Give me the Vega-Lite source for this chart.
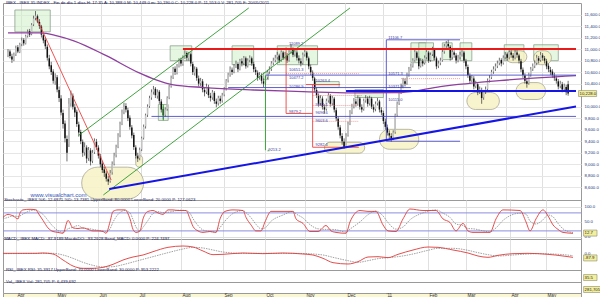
{
"$schema": "https://vega.github.io/schema/vega-lite/v6.json",
"padding": 0,
"autosize": {"type": "pad"},
"background": "white",
"spacing": 0,
"bounds": "flush",
"config": {
 "view": {"stroke": "#9a9a9a", "strokeWidth": 1},
 "axis": {"labelFont": "Liberation Sans", "labelOverlap": false, "labelBound": false},
 "text": {"font": "Liberation Sans"},
 "title": {"anchor": "start", "fontSize": 4.3, "fontWeight": "normal", "font": "Liberation Sans", "color": "#1a1a5a", "offset": -2, "baseline": "top", "dx": 3}
},
"datasets": {
 "ohlc": [
{"i":0,"o":10900,"h":11000,"l":10860,"c":10950},{"i":1,"o":10960,"h":10990,"l":10840,"c":10880},{"i":2,"o":10870,"h":10920,"l":10760,"c":10820},{"i":3,"o":10810,"h":10940,"l":10790,"c":10900},{"i":4,"o":10910,"h":11060,"l":10880,"c":11020},{"i":5,"o":11030,"h":11070,"l":10930,"c":10960},{"i":6,"o":10950,"h":11110,"l":10930,"c":11080},{"i":7,"o":11090,"h":11200,"l":11050,"c":11150},{"i":8,"o":11160,"h":11190,"l":11060,"c":11100},{"i":9,"o":11100,"h":11250,"l":11080,"c":11220},
{"i":10,"o":11230,"h":11340,"l":11200,"c":11300},{"i":11,"o":11310,"h":11350,"l":11210,"c":11250},{"i":12,"o":11260,"h":11450,"l":11240,"c":11420},{"i":13,"o":11430,"h":11580,"l":11400,"c":11530},{"i":14,"o":11540,"h":11660,"l":11500,"c":11580},{"i":15,"o":11570,"h":11600,"l":11450,"c":11480},{"i":16,"o":11470,"h":11520,"l":11350,"c":11400},{"i":17,"o":11390,"h":11420,"l":11200,"c":11250},{"i":18,"o":11240,"h":11280,"l":11100,"c":11150},{"i":19,"o":11160,"h":11200,"l":11000,"c":11050},
{"i":20,"o":11040,"h":11080,"l":10800,"c":10850},{"i":21,"o":10840,"h":10900,"l":10650,"c":10700},{"i":22,"o":10720,"h":10780,"l":10550,"c":10600},{"i":23,"o":10610,"h":10650,"l":10400,"c":10450},{"i":24,"o":10440,"h":10580,"l":10380,"c":10500},{"i":25,"o":10510,"h":10550,"l":10250,"c":10300},{"i":26,"o":10290,"h":10350,"l":10080,"c":10150},{"i":27,"o":10140,"h":10200,"l":9850,"c":9900},{"i":28,"o":9890,"h":9950,"l":9620,"c":9700},{"i":29,"o":9710,"h":9760,"l":9380,"c":9450},
{"i":30,"o":9440,"h":9500,"l":9050,"c":9200},{"i":31,"o":9350,"h":10150,"l":9300,"c":10050},{"i":32,"o":10060,"h":10280,"l":10000,"c":10200},{"i":33,"o":10190,"h":10230,"l":9950,"c":10000},{"i":34,"o":9990,"h":10050,"l":9820,"c":9900},{"i":35,"o":9910,"h":9950,"l":9650,"c":9700},{"i":36,"o":9690,"h":9740,"l":9480,"c":9550},{"i":37,"o":9560,"h":9600,"l":9350,"c":9400},{"i":38,"o":9390,"h":9430,"l":9130,"c":9200},{"i":39,"o":9210,"h":9380,"l":9150,"c":9300},
{"i":40,"o":9290,"h":9330,"l":9020,"c":9100},{"i":41,"o":9110,"h":9300,"l":9060,"c":9250},{"i":42,"o":9240,"h":9280,"l":8980,"c":9050},{"i":43,"o":9060,"h":9250,"l":9020,"c":9200},{"i":44,"o":9210,"h":9450,"l":9180,"c":9400},{"i":45,"o":9390,"h":9440,"l":9250,"c":9300},{"i":46,"o":9290,"h":9330,"l":9100,"c":9150},{"i":47,"o":9140,"h":9180,"l":8950,"c":9000},{"i":48,"o":9010,"h":9060,"l":8850,"c":8900},{"i":49,"o":8910,"h":8960,"l":8780,"c":8850},
{"i":50,"o":8840,"h":8880,"l":8700,"c":8750},{"i":51,"o":8740,"h":8800,"l":8640,"c":8700},{"i":52,"o":8710,"h":8900,"l":8680,"c":8850},{"i":53,"o":8860,"h":9050,"l":8820,"c":9000},{"i":54,"o":9010,"h":9200,"l":8980,"c":9150},{"i":55,"o":9160,"h":9340,"l":9120,"c":9300},{"i":56,"o":9310,"h":9540,"l":9280,"c":9500},{"i":57,"o":9510,"h":9740,"l":9470,"c":9700},{"i":58,"o":9710,"h":9950,"l":9680,"c":9900},{"i":59,"o":9910,"h":10070,"l":9870,"c":10000},
{"i":60,"o":10010,"h":10060,"l":9900,"c":9950},{"i":61,"o":9940,"h":9980,"l":9750,"c":9800},{"i":62,"o":9810,"h":9850,"l":9600,"c":9650},{"i":63,"o":9640,"h":9680,"l":9450,"c":9500},{"i":64,"o":9510,"h":9550,"l":9250,"c":9300},{"i":65,"o":9290,"h":9330,"l":9100,"c":9150},{"i":66,"o":9140,"h":9200,"l":9040,"c":9100},{"i":67,"o":9110,"h":9290,"l":9070,"c":9250},{"i":68,"o":9260,"h":9480,"l":9230,"c":9450},{"i":69,"o":9460,"h":9690,"l":9430,"c":9650},
{"i":70,"o":9660,"h":9880,"l":9620,"c":9850},{"i":71,"o":9860,"h":10040,"l":9820,"c":10000},{"i":72,"o":10010,"h":10190,"l":9980,"c":10150},{"i":73,"o":10160,"h":10300,"l":10120,"c":10250},{"i":74,"o":10260,"h":10360,"l":10210,"c":10300},{"i":75,"o":10310,"h":10340,"l":10150,"c":10200},{"i":76,"o":10190,"h":10300,"l":10140,"c":10250},{"i":77,"o":10260,"h":10290,"l":10050,"c":10100},{"i":78,"o":10090,"h":10130,"l":9900,"c":9950},{"i":79,"o":9960,"h":10000,"l":9780,"c":9850},
{"i":80,"o":9860,"h":9990,"l":9820,"c":9950},{"i":81,"o":9960,"h":10180,"l":9930,"c":10150},{"i":82,"o":10160,"h":10380,"l":10130,"c":10350},{"i":83,"o":10360,"h":10540,"l":10330,"c":10500},{"i":84,"o":10510,"h":10690,"l":10480,"c":10650},{"i":85,"o":10660,"h":10700,"l":10550,"c":10600},{"i":86,"o":10590,"h":10740,"l":10560,"c":10700},{"i":87,"o":10710,"h":10840,"l":10680,"c":10800},{"i":88,"o":10810,"h":10850,"l":10700,"c":10750},{"i":89,"o":10740,"h":10890,"l":10710,"c":10850},
{"i":90,"o":10860,"h":10980,"l":10830,"c":10920},{"i":91,"o":10930,"h":10960,"l":10800,"c":10850},{"i":92,"o":10840,"h":10950,"l":10800,"c":10900},{"i":93,"o":10910,"h":10940,"l":10700,"c":10750},{"i":94,"o":10740,"h":10780,"l":10550,"c":10600},{"i":95,"o":10590,"h":10700,"l":10540,"c":10650},{"i":96,"o":10660,"h":10690,"l":10450,"c":10500},{"i":97,"o":10490,"h":10540,"l":10350,"c":10400},{"i":98,"o":10410,"h":10500,"l":10360,"c":10450},{"i":99,"o":10440,"h":10480,"l":10250,"c":10300},
{"i":100,"o":10290,"h":10340,"l":10180,"c":10250},{"i":101,"o":10260,"h":10400,"l":10220,"c":10350},{"i":102,"o":10340,"h":10380,"l":10150,"c":10200},{"i":103,"o":10190,"h":10240,"l":10090,"c":10150},{"i":104,"o":10160,"h":10290,"l":10120,"c":10250},{"i":105,"o":10240,"h":10270,"l":10050,"c":10100},{"i":106,"o":10090,"h":10140,"l":9990,"c":10050},{"i":107,"o":10060,"h":10190,"l":10020,"c":10150},{"i":108,"o":10140,"h":10190,"l":10050,"c":10100},{"i":109,"o":10110,"h":10240,"l":10070,"c":10200},
{"i":110,"o":10210,"h":10340,"l":10180,"c":10300},{"i":111,"o":10310,"h":10480,"l":10280,"c":10450},{"i":112,"o":10460,"h":10590,"l":10420,"c":10550},{"i":113,"o":10560,"h":10700,"l":10520,"c":10650},{"i":114,"o":10640,"h":10680,"l":10550,"c":10600},{"i":115,"o":10610,"h":10740,"l":10580,"c":10700},{"i":116,"o":10710,"h":10800,"l":10670,"c":10750},{"i":117,"o":10740,"h":10770,"l":10600,"c":10650},{"i":118,"o":10660,"h":10830,"l":10630,"c":10800},{"i":119,"o":10790,"h":10840,"l":10700,"c":10750},
{"i":120,"o":10760,"h":10880,"l":10720,"c":10850},{"i":121,"o":10840,"h":10870,"l":10660,"c":10700},{"i":122,"o":10710,"h":10840,"l":10680,"c":10800},{"i":123,"o":10810,"h":10890,"l":10770,"c":10850},{"i":124,"o":10840,"h":10870,"l":10710,"c":10750},{"i":125,"o":10740,"h":10780,"l":10600,"c":10650},{"i":126,"o":10640,"h":10690,"l":10550,"c":10600},{"i":127,"o":10590,"h":10630,"l":10450,"c":10500},{"i":128,"o":10510,"h":10600,"l":10470,"c":10550},{"i":129,"o":10540,"h":10580,"l":10400,"c":10450},
{"i":130,"o":10440,"h":10490,"l":10340,"c":10400},{"i":131,"o":10410,"h":10540,"l":10380,"c":10500},{"i":132,"o":10510,"h":10640,"l":10480,"c":10600},{"i":133,"o":10610,"h":10700,"l":10570,"c":10650},{"i":134,"o":10660,"h":10790,"l":10620,"c":10750},{"i":135,"o":10760,"h":10850,"l":10720,"c":10800},{"i":136,"o":10810,"h":10900,"l":10770,"c":10850},{"i":137,"o":10860,"h":10950,"l":10820,"c":10900},{"i":138,"o":10890,"h":10920,"l":10760,"c":10800},{"i":139,"o":10810,"h":10980,"l":10780,"c":10950},
{"i":140,"o":10940,"h":10970,"l":10810,"c":10850},{"i":141,"o":10860,"h":10950,"l":10820,"c":10900},{"i":142,"o":10890,"h":10930,"l":10760,"c":10800},{"i":143,"o":10810,"h":10990,"l":10780,"c":10950},{"i":144,"o":10960,"h":11089,"l":10920,"c":11000},{"i":145,"o":10990,"h":11030,"l":10860,"c":10900},{"i":146,"o":10910,"h":11000,"l":10870,"c":10950},{"i":147,"o":10940,"h":10980,"l":10800,"c":10850},{"i":148,"o":10840,"h":10890,"l":10750,"c":10800},{"i":149,"o":10790,"h":10840,"l":10700,"c":10750},
{"i":150,"o":10760,"h":10940,"l":10730,"c":10900},{"i":151,"o":10910,"h":11000,"l":10870,"c":10950},{"i":152,"o":10940,"h":10970,"l":10800,"c":10850},{"i":153,"o":10840,"h":10870,"l":10650,"c":10700},{"i":154,"o":10690,"h":10730,"l":10550,"c":10600},{"i":155,"o":10590,"h":10630,"l":10450,"c":10500},{"i":156,"o":10490,"h":10520,"l":10250,"c":10300},{"i":157,"o":10290,"h":10340,"l":10150,"c":10200},{"i":158,"o":10190,"h":10230,"l":10000,"c":10050},{"i":159,"o":10060,"h":10200,"l":10020,"c":10150},
{"i":160,"o":10140,"h":10180,"l":9950,"c":10000},{"i":161,"o":9990,"h":10040,"l":9880,"c":9950},{"i":162,"o":9960,"h":10140,"l":9930,"c":10100},{"i":163,"o":10110,"h":10250,"l":10070,"c":10200},{"i":164,"o":10190,"h":10220,"l":10000,"c":10050},{"i":165,"o":10060,"h":10190,"l":10020,"c":10150},{"i":166,"o":10140,"h":10170,"l":9900,"c":9950},{"i":167,"o":9940,"h":9980,"l":9750,"c":9800},{"i":168,"o":9790,"h":9830,"l":9600,"c":9650},{"i":169,"o":9640,"h":9680,"l":9450,"c":9500},
{"i":170,"o":9490,"h":9540,"l":9340,"c":9400},{"i":171,"o":9390,"h":9450,"l":9267,"c":9300},{"i":172,"o":9310,"h":9540,"l":9280,"c":9500},{"i":173,"o":9510,"h":9740,"l":9480,"c":9700},{"i":174,"o":9710,"h":9940,"l":9680,"c":9900},{"i":175,"o":9910,"h":10050,"l":9870,"c":10000},{"i":176,"o":10010,"h":10150,"l":9970,"c":10100},{"i":177,"o":10090,"h":10140,"l":10000,"c":10050},{"i":178,"o":10060,"h":10200,"l":10020,"c":10150},{"i":179,"o":10140,"h":10170,"l":9950,"c":10000},
{"i":180,"o":9990,"h":10040,"l":9900,"c":9950},{"i":181,"o":9960,"h":10140,"l":9930,"c":10100},{"i":182,"o":10110,"h":10200,"l":10070,"c":10150},{"i":183,"o":10140,"h":10180,"l":10000,"c":10050},{"i":184,"o":10060,"h":10190,"l":10020,"c":10150},{"i":185,"o":10140,"h":10170,"l":9960,"c":10000},{"i":186,"o":9990,"h":10040,"l":9900,"c":9950},{"i":187,"o":9960,"h":10090,"l":9920,"c":10050},{"i":188,"o":10060,"h":10150,"l":10020,"c":10100},{"i":189,"o":10090,"h":10120,"l":9900,"c":9950},
{"i":190,"o":9940,"h":9990,"l":9850,"c":9900},{"i":191,"o":9890,"h":9930,"l":9700,"c":9750},{"i":192,"o":9740,"h":9790,"l":9600,"c":9650},{"i":193,"o":9640,"h":9690,"l":9500,"c":9550},{"i":194,"o":9540,"h":9590,"l":9440,"c":9500},{"i":195,"o":9490,"h":9540,"l":9390,"c":9450},{"i":196,"o":9460,"h":9590,"l":9420,"c":9550},{"i":197,"o":9560,"h":9880,"l":9530,"c":9850},{"i":198,"o":9860,"h":10090,"l":9830,"c":10050},{"i":199,"o":10060,"h":10290,"l":10030,"c":10250},
{"i":200,"o":10260,"h":10400,"l":10220,"c":10350},{"i":201,"o":10360,"h":10500,"l":10320,"c":10450},{"i":202,"o":10440,"h":10490,"l":10350,"c":10400},{"i":203,"o":10410,"h":10590,"l":10380,"c":10550},{"i":204,"o":10560,"h":10690,"l":10520,"c":10650},{"i":205,"o":10660,"h":10750,"l":10620,"c":10700},{"i":206,"o":10710,"h":10840,"l":10680,"c":10800},{"i":207,"o":10810,"h":10990,"l":10780,"c":10950},{"i":208,"o":10940,"h":10970,"l":10800,"c":10850},{"i":209,"o":10840,"h":10870,"l":10650,"c":10700},
{"i":210,"o":10710,"h":10840,"l":10680,"c":10800},{"i":211,"o":10790,"h":10830,"l":10700,"c":10750},{"i":212,"o":10760,"h":10890,"l":10730,"c":10850},{"i":213,"o":10860,"h":10990,"l":10820,"c":10950},{"i":214,"o":10940,"h":10970,"l":10760,"c":10800},{"i":215,"o":10810,"h":10940,"l":10780,"c":10900},{"i":216,"o":10910,"h":11040,"l":10880,"c":11000},{"i":217,"o":10990,"h":11020,"l":10800,"c":10850},{"i":218,"o":10840,"h":10870,"l":10650,"c":10700},{"i":219,"o":10710,"h":10800,"l":10670,"c":10750},
{"i":220,"o":10760,"h":10850,"l":10720,"c":10800},{"i":221,"o":10810,"h":10990,"l":10780,"c":10950},{"i":222,"o":10960,"h":11090,"l":10920,"c":11050},{"i":223,"o":11060,"h":11140,"l":11020,"c":11100},{"i":224,"o":11090,"h":11160,"l":11000,"c":11050},{"i":225,"o":11040,"h":11070,"l":10800,"c":10850},{"i":226,"o":10860,"h":10990,"l":10820,"c":10950},{"i":227,"o":10940,"h":10980,"l":10850,"c":10900},{"i":228,"o":10890,"h":10930,"l":10750,"c":10800},{"i":229,"o":10810,"h":10900,"l":10770,"c":10850},
{"i":230,"o":10860,"h":10950,"l":10820,"c":10900},{"i":231,"o":10910,"h":11000,"l":10870,"c":10950},{"i":232,"o":10940,"h":10970,"l":10760,"c":10800},{"i":233,"o":10790,"h":10830,"l":10650,"c":10700},{"i":234,"o":10690,"h":10730,"l":10500,"c":10550},{"i":235,"o":10540,"h":10580,"l":10400,"c":10450},{"i":236,"o":10460,"h":10550,"l":10420,"c":10500},{"i":237,"o":10490,"h":10530,"l":10300,"c":10350},{"i":238,"o":10360,"h":10450,"l":10320,"c":10400},{"i":239,"o":10390,"h":10430,"l":10200,"c":10250},
{"i":240,"o":10260,"h":10350,"l":10220,"c":10300},{"i":241,"o":10290,"h":10330,"l":10050,"c":10150},{"i":242,"o":10160,"h":10290,"l":10120,"c":10250},{"i":243,"o":10260,"h":10350,"l":10220,"c":10300},{"i":244,"o":10310,"h":10490,"l":10280,"c":10450},{"i":245,"o":10460,"h":10550,"l":10420,"c":10500},{"i":246,"o":10510,"h":10640,"l":10480,"c":10600},{"i":247,"o":10610,"h":10700,"l":10570,"c":10650},{"i":248,"o":10660,"h":10750,"l":10620,"c":10700},{"i":249,"o":10710,"h":10800,"l":10670,"c":10750},
{"i":250,"o":10760,"h":10850,"l":10720,"c":10800},{"i":251,"o":10810,"h":10840,"l":10700,"c":10750},{"i":252,"o":10760,"h":10890,"l":10730,"c":10850},{"i":253,"o":10860,"h":10950,"l":10820,"c":10900},{"i":254,"o":10910,"h":10940,"l":10800,"c":10850},{"i":255,"o":10860,"h":10990,"l":10820,"c":10950},{"i":256,"o":10940,"h":10980,"l":10850,"c":10900},{"i":257,"o":10890,"h":10930,"l":10800,"c":10850},{"i":258,"o":10860,"h":10990,"l":10820,"c":10950},{"i":259,"o":10940,"h":10980,"l":10850,"c":10900},
{"i":260,"o":10890,"h":10920,"l":10750,"c":10800},{"i":261,"o":10790,"h":10830,"l":10600,"c":10650},{"i":262,"o":10640,"h":10680,"l":10500,"c":10550},{"i":263,"o":10540,"h":10580,"l":10400,"c":10450},{"i":264,"o":10440,"h":10490,"l":10330,"c":10400},{"i":265,"o":10410,"h":10590,"l":10380,"c":10550},{"i":266,"o":10560,"h":10690,"l":10520,"c":10650},{"i":267,"o":10660,"h":10750,"l":10620,"c":10700},{"i":268,"o":10710,"h":10800,"l":10670,"c":10750},{"i":269,"o":10760,"h":10900,"l":10720,"c":10850},
{"i":270,"o":10840,"h":10880,"l":10750,"c":10800},{"i":271,"o":10810,"h":10950,"l":10780,"c":10900},{"i":272,"o":10890,"h":10930,"l":10800,"c":10850},{"i":273,"o":10840,"h":10880,"l":10750,"c":10800},{"i":274,"o":10790,"h":10830,"l":10650,"c":10700},{"i":275,"o":10710,"h":10750,"l":10600,"c":10650},{"i":276,"o":10640,"h":10690,"l":10550,"c":10600},{"i":277,"o":10610,"h":10650,"l":10500,"c":10550},{"i":278,"o":10540,"h":10590,"l":10450,"c":10500},{"i":279,"o":10490,"h":10540,"l":10400,"c":10450},
{"i":280,"o":10440,"h":10480,"l":10300,"c":10350},{"i":281,"o":10360,"h":10450,"l":10320,"c":10400},{"i":282,"o":10390,"h":10430,"l":10250,"c":10300},{"i":283,"o":10310,"h":10400,"l":10270,"c":10350},{"i":284,"o":10340,"h":10380,"l":10200,"c":10250},{"i":285,"o":10388,"h":10449,"l":10190,"c":10228}
 ],
 "ma": [
{"i":0,"v":11282},{"i":16.5,"v":11282},{"i":25,"v":11230},{"i":33.5,"v":11144},{"i":50,"v":10885},{"i":66.5,"v":10591},{"i":75,"v":10470},{"i":83.5,"v":10384},{"i":100,"v":10332},{"i":125,"v":10290},{"i":150,"v":10263},{"i":175,"v":10240},{"i":200,"v":10246},{"i":220,"v":10349},{"i":250,"v":10453},{"i":289,"v":10539}
 ],
 "months": [
{"m":6.5,"t":"Apr"},{"m":26.5,"t":"May"},{"m":47.5,"t":"Jun"},{"m":67.5,"t":"Jul"},{"m":89,"t":"Aug"},{"m":110,"t":"Sep"},{"m":131,"t":"Oct"},{"m":151,"t":"Nov"},{"m":171.5,"t":"Dec"},{"m":191,"t":"'11"},{"m":212.5,"t":"Feb"},{"m":231.5,"t":"Mar"},{"m":253.5,"t":"Apr"},{"m":271.5,"t":"May"}
 ],
 "boxes": [
{"i1":3.5,"i2":21.5,"p1":11679,"p2":11299},{"i1":82.5,"i2":93.5,"p1":11057,"p2":10798},{"i1":114,"i2":125,"p1":11057,"p2":10729},{"i1":130,"i2":132.5,"p1":10591,"p2":10470},{"i1":137,"i2":157.5,"p1":11057,"p2":10729},{"i1":156.5,"i2":168.5,"p1":10436,"p2":10332},{"i1":176.5,"i2":191,"p1":10297,"p2":10159},{"i1":205,"i2":212.5,"p1":11109,"p2":10764},{"i1":209,"i2":216.5,"p1":11109,"p2":10798},{"i1":221,"i2":226,"p1":11109,"p2":10816},{"i1":230,"i2":236,"p1":11109,"p2":10798},{"i1":252.5,"i2":262.5,"p1":11075,"p2":10798},{"i1":267.5,"i2":280,"p1":11075,"p2":10798},{"i1":76.5,"i2":81.5,"p1":10038,"p2":9762}
 ],
 "ovals": [
{"i1":37.5,"i2":69,"p1":8950,"p2":8398},{"i1":65,"i2":68.5,"p1":9158,"p2":8950},{"i1":161,"i2":181.5,"p1":9382,"p2":9192},{"i1":189,"i2":209,"p1":9607,"p2":9261},{"i1":233.5,"i2":250,"p1":10246,"p2":9952},{"i1":258.5,"i2":273.5,"p1":10418,"p2":10125},{"i1":253.5,"i2":264,"p1":10971,"p2":10764},{"i1":267.5,"i2":276.5,"p1":10971,"p2":10729}
 ],
 "redThick": [{"x1":89,"x2":289,"p1":11000,"p2":11000}],
 "redThin": [
{"x1":14.5,"x2":52.5,"p1":11541,"p2":8726},{"x1":141.5,"x2":141.5,"p1":11030,"p2":9883},{"x1":141.5,"x2":155,"p1":9883,"p2":9883},{"x1":155,"x2":155,"p1":10384,"p2":9296},{"x1":155,"x2":178.5,"p1":9296,"p2":9296},{"x1":151.5,"x2":169,"p1":10384,"p2":10384}
 ],
 "pinkDot": [
{"x1":141.5,"x2":178.5,"p1":10574,"p2":10574},{"x1":155,"x2":180,"p1":10194,"p2":10194},{"x1":155,"x2":178.5,"p1":10021,"p2":10021},{"x1":155,"x2":178.5,"p1":9745,"p2":9745},{"x1":200,"x2":230,"p1":10487,"p2":10487}
 ],
 "green": [
{"x1":36,"x2":122.5,"p1":9503,"p2":11714},{"x1":48.5,"x2":174,"p1":8467,"p2":11714},{"x1":131,"x2":131,"p1":10539,"p2":9244},{"x1":79,"x2":79,"p1":10038,"p2":9762}
 ],
 "blueThick": [
{"x1":51.5,"x2":289,"p1":8570,"p2":10004},{"x1":172,"x2":289,"p1":10272,"p2":10272}
 ],
 "blueThin": [
{"x1":131,"x2":289,"p1":10548,"p2":10548},{"x1":112,"x2":205,"p1":10332,"p2":10332},{"x1":73,"x2":289,"p1":9831,"p2":9831},{"x1":192.5,"x2":230,"p1":9400,"p2":9400},{"x1":192.5,"x2":230,"p1":11161,"p2":11161},{"x1":192.5,"x2":192.5,"p1":11161,"p2":9400}
 ],
 "notes": [
{"i":193.5,"p":11185,"t":"11106.7"},{"i":193.5,"p":10560,"t":"10571.3"},{"i":193.5,"p":10350,"t":"10371.8"},{"i":193.5,"p":10110,"t":"10115.0"},
{"i":143,"p":11080,"t":"11089.2"},{"i":143,"p":10640,"t":"10651.3"},{"i":143,"p":10500,"t":"10477.2"},{"i":143,"p":10340,"t":"10286.9"},{"i":143,"p":9900,"t":"9879.2"},
{"i":156.5,"p":10450,"t":"10263.4"},{"i":156.5,"p":10030,"t":"9951.1"},{"i":156.5,"p":9890,"t":"9696.6"},{"i":156.5,"p":9750,"t":"9603.6"},{"i":156.5,"p":9340,"t":"9282.4"}
 ],
 "greenNote": [{"i":132.5,"p":9244,"t":"9213.2"}],
 "brand": [{"i":11.5,"p":8467,"t":"www.visualchart.com"}],
 "lastMain": [{"a":290.3,"b":299.5,"lo":10176,"hi":10280,"i":290.8,"p":10228,"t":"10,228.0"}],
 "lastStoch": [{"a":290.3,"b":297,"lo":2.7,"hi":22.7,"i":290.8,"p":12.7,"t":"12.7"}],
 "lastMacd": [{"a":290.3,"b":297,"lo":-178,"hi":2,"i":290.8,"p":-88,"t":"-87.9"}],
 "lastRsi": [{"a":290.3,"b":297,"lo":12,"hi":62,"i":290.8,"p":37,"t":"35.5"}],
 "lastVol": [{"a":290.3,"b":299.5,"lo":0.5,"hi":6.5,"i":290.8,"p":3.5,"t":"281,705"}],
 "stoch": [
{"i":0,"k":65,"d":60},{"i":2.5,"k":75,"d":65},{"i":5,"k":70,"d":70},{"i":7.5,"k":60,"d":68},{"i":8.5,"k":80,"d":70},{"i":10,"k":90,"d":76},{"i":13.5,"k":92,"d":87},{"i":16.5,"k":90,"d":90},{"i":17.5,"k":80,"d":87},{"i":20,"k":55,"d":75},{"i":22.5,"k":30,"d":55},{"i":25,"k":18,"d":35},{"i":27.5,"k":15,"d":21},{"i":30,"k":12,"d":15},{"i":32.5,"k":55,"d":27},{"i":35,"k":30,"d":32},{"i":37.5,"k":28,"d":38},{"i":40,"k":30,"d":29},{"i":42.5,"k":25,"d":28},{"i":45,"k":20,"d":25},{"i":47.5,"k":20,"d":22},{"i":50,"k":18,"d":19},{"i":51.5,"k":12,"d":17},{"i":53.5,"k":50,"d":27},{"i":55,"k":85,"d":49},{"i":57.5,"k":90,"d":75},{"i":61,"k":90,"d":88},{"i":63.5,"k":60,"d":80},{"i":65,"k":25,"d":58},{"i":66.5,"k":15,"d":33},{"i":68.5,"k":20,"d":20},{"i":70,"k":60,"d":32},{"i":72.5,"k":85,"d":55},{"i":75,"k":88,"d":78},{"i":77.5,"k":80,"d":84},{"i":80,"k":75,"d":81},{"i":82.5,"k":90,"d":82},{"i":85,"k":90,"d":85},{"i":87.5,"k":88,"d":89},{"i":91.5,"k":88,"d":88},{"i":93.5,"k":60,"d":79},{"i":95,"k":35,"d":61},{"i":97.5,"k":20,"d":38},{"i":100,"k":15,"d":23},{"i":103.5,"k":18,"d":18},{"i":106.5,"k":15,"d":16},{"i":108.5,"k":60,"d":31},{"i":111,"k":85,"d":53},{"i":115,"k":90,"d":78},{"i":120,"k":88,"d":88},{"i":121.5,"k":65,"d":81},{"i":124,"k":40,"d":64},{"i":126.5,"k":20,"d":42},{"i":129,"k":20,"d":27},{"i":131,"k":50,"d":30},{"i":134,"k":85,"d":52},{"i":140,"k":85,"d":73},{"i":145,"k":85,"d":85},{"i":146.5,"k":60,"d":77},{"i":150,"k":45,"d":63},{"i":153.5,"k":18,"d":41},{"i":157.5,"k":18,"d":27},{"i":161.5,"k":38,"d":25},{"i":164,"k":20,"d":25},{"i":166.5,"k":15,"d":24},{"i":171.5,"k":12,"d":16},{"i":173.5,"k":50,"d":26},{"i":178.5,"k":88,"d":50},{"i":182.5,"k":85,"d":74},{"i":186.5,"k":85,"d":86},{"i":190,"k":40,"d":70},{"i":192.5,"k":20,"d":48},{"i":196.5,"k":18,"d":26},{"i":200,"k":60,"d":33},{"i":203.5,"k":93,"d":57},{"i":210,"k":88,"d":80},{"i":216.5,"k":88,"d":90},{"i":220,"k":60,"d":79},{"i":223.5,"k":48,"d":65},{"i":226.5,"k":20,"d":43},{"i":230,"k":45,"d":38},{"i":232.5,"k":20,"d":28},{"i":235,"k":15,"d":27},{"i":243.5,"k":15,"d":17},{"i":246.5,"k":60,"d":30},{"i":250,"k":90,"d":55},{"i":258.5,"k":88,"d":79},{"i":261.5,"k":50,"d":76},{"i":263.5,"k":20,"d":53},{"i":266.5,"k":60,"d":43},{"i":270,"k":90,"d":57},{"i":272.5,"k":70,"d":73},{"i":275,"k":40,"d":67},{"i":277.5,"k":25,"d":45},{"i":280,"k":15,"d":27},{"i":285,"k":12,"d":14}
 ],
 "stochBands": [{"b":80},{"b":20}],
 "macd": [
{"i":0,"m":50,"s":40},{"i":16.5,"m":50,"s":50},{"i":20,"m":60,"s":52},{"i":25,"m":30,"s":50},{"i":30,"m":-150,"s":0},{"i":35,"m":-330,"s":-100},{"i":40,"m":-400,"s":-220},{"i":45,"m":-400,"s":-310},{"i":50,"m":-370,"s":-360},{"i":55,"m":-280,"s":-350},{"i":60,"m":-150,"s":-290},{"i":65,"m":-60,"s":-210},{"i":70,"m":0,"s":-130},{"i":75,"m":100,"s":-50},{"i":82.5,"m":230,"s":70},{"i":90,"m":270,"s":180},{"i":95,"m":240,"s":230},{"i":100,"m":120,"s":210},{"i":105,"m":10,"s":150},{"i":110,"m":20,"s":90},{"i":120,"m":60,"s":50},{"i":130,"m":40,"s":50},{"i":140,"m":60,"s":50},{"i":150,"m":30,"s":45},{"i":155,"m":0,"s":30},{"i":160,"m":-100,"s":0},{"i":165,"m":-230,"s":-70},{"i":172.5,"m":-270,"s":-170},{"i":177.5,"m":-200,"s":-220},{"i":182.5,"m":-60,"s":-170},{"i":187.5,"m":-50,"s":-110},{"i":192.5,"m":-80,"s":-80},{"i":197.5,"m":20,"s":-50},{"i":205,"m":150,"s":30},{"i":212.5,"m":240,"s":140},{"i":217.5,"m":230,"s":200},{"i":225,"m":150,"s":200},{"i":232.5,"m":60,"s":140},{"i":237.5,"m":-30,"s":70},{"i":242.5,"m":-70,"s":10},{"i":247.5,"m":-10,"s":-30},{"i":255,"m":40,"s":0},{"i":262.5,"m":50,"s":30},{"i":267.5,"m":40,"s":40},{"i":272.5,"m":20,"s":35},{"i":280,"m":-30,"s":10},{"i":285,"m":-70,"s":-20}
 ]
},
"vconcat": [
 {
  "width": 578, "height": 197,
  "title": {"text": "IBEX - IBEX 35 INDEX - Fin de día 1 días  H: 17:35  A: 10,388.0  M: 10,449.0  m: 10,190.0  C: 10,228.0  P: 11,553.0  V: 281,705  F: 20/05/2011"},
  "layer": [
   {"data": {"name": "boxes"}, "mark": {"type": "rect", "fill": "#cfeec8", "fillOpacity": 0.55, "stroke": "#7f977f", "strokeWidth": 0.7},
    "encoding": {
     "x": {"field": "i1", "type": "quantitative", "title": null, "scale": {"domain": [0, 289], "nice": false, "zero": false},
       "axis": {"values": [6.5,26.5,47.5,67.5,89,110,131,151,171.5,191,212.5,231.5,253.5,271.5], "tickCount": 40, "labels": false, "ticks": false, "domain": false, "grid": true, "gridColor": "#e0e0e0"}},
     "x2": {"field": "i2"},
     "y": {"field": "p1", "type": "quantitative", "title": null, "scale": {"domain": [8380, 11800], "nice": false, "zero": false},
       "axis": {"orient": "right", "values": [8600,8800,9000,9200,9400,9600,9800,10000,10400,10600,10800,11000,11200,11400,11600], "tickCount": 40, "format": ",.1f", "labelFontSize": 4.3, "labelColor": "#223377", "labelOverlap": false, "ticks": false, "domain": false, "grid": true, "gridColor": "#e6e6e6", "labelPadding": 3}},
     "y2": {"field": "p2"}}},
   {"data": {"name": "ovals"}, "mark": {"type": "rect", "fill": "#f7f2c6", "fillOpacity": 0.85, "stroke": "#9e9c86", "strokeWidth": 0.7, "cornerRadius": 60},
    "encoding": {"x": {"field": "i1", "type": "quantitative", "title": null}, "x2": {"field": "i2"}, "y": {"field": "p1", "type": "quantitative", "title": null}, "y2": {"field": "p2"}}},
   {"data": {"name": "ohlc"}, "mark": {"type": "rule", "color": "#4a4a4a", "strokeWidth": 0.8},
    "encoding": {"x": {"field": "i", "type": "quantitative", "title": null}, "y": {"field": "l", "type": "quantitative", "title": null}, "y2": {"field": "h"}}},
   {"data": {"name": "ohlc"}, "mark": {"type": "bar", "size": 1.5},
    "encoding": {"x": {"field": "i", "type": "quantitative", "title": null}, "y": {"field": "o", "type": "quantitative", "title": null}, "y2": {"field": "c"},
     "color": {"condition": {"test": "datum.c >= datum.o", "value": "#c4c4c4"}, "value": "#111111"}}},
   {"data": {"name": "ma"}, "mark": {"type": "line", "color": "#8e3f9e", "strokeWidth": 1.3, "interpolate": "monotone", "clip": true},
    "encoding": {"x": {"field": "i", "type": "quantitative", "title": null}, "y": {"field": "v", "type": "quantitative", "title": null}}},
   {"data": {"name": "pinkDot"}, "mark": {"type": "rule", "color": "#ee8888", "strokeWidth": 0.8, "strokeDash": [1, 1], "clip": true},
    "encoding": {"x": {"field": "x1", "type": "quantitative", "title": null}, "x2": {"field": "x2"}, "y": {"field": "p1", "type": "quantitative", "title": null}, "y2": {"field": "p2"}}},
   {"data": {"name": "redThin"}, "mark": {"type": "rule", "color": "#ee4040", "strokeWidth": 0.9, "clip": true},
    "encoding": {"x": {"field": "x1", "type": "quantitative", "title": null}, "x2": {"field": "x2"}, "y": {"field": "p1", "type": "quantitative", "title": null}, "y2": {"field": "p2"}}},
   {"data": {"name": "green"}, "mark": {"type": "rule", "color": "#2b9a2b", "strokeWidth": 0.9, "clip": true},
    "encoding": {"x": {"field": "x1", "type": "quantitative", "title": null}, "x2": {"field": "x2"}, "y": {"field": "p1", "type": "quantitative", "title": null}, "y2": {"field": "p2"}}},
   {"data": {"name": "blueThin"}, "mark": {"type": "rule", "color": "#4d4dcc", "strokeWidth": 0.9, "clip": true},
    "encoding": {"x": {"field": "x1", "type": "quantitative", "title": null}, "x2": {"field": "x2"}, "y": {"field": "p1", "type": "quantitative", "title": null}, "y2": {"field": "p2"}}},
   {"data": {"name": "blueThick"}, "mark": {"type": "rule", "color": "#1515e6", "strokeWidth": 2, "clip": true},
    "encoding": {"x": {"field": "x1", "type": "quantitative", "title": null}, "x2": {"field": "x2"}, "y": {"field": "p1", "type": "quantitative", "title": null}, "y2": {"field": "p2"}}},
   {"data": {"name": "redThick"}, "mark": {"type": "rule", "color": "#ea1a1a", "strokeWidth": 2, "clip": true},
    "encoding": {"x": {"field": "x1", "type": "quantitative", "title": null}, "x2": {"field": "x2"}, "y": {"field": "p1", "type": "quantitative", "title": null}, "y2": {"field": "p2"}}},
   {"data": {"name": "notes"}, "mark": {"type": "text", "fontSize": 4, "color": "#3a3aa0", "align": "left", "baseline": "middle"},
    "encoding": {"x": {"field": "i", "type": "quantitative", "title": null}, "y": {"field": "p", "type": "quantitative", "title": null}, "text": {"field": "t"}}},
   {"data": {"name": "greenNote"}, "mark": {"type": "text", "fontSize": 4, "color": "#3a3aa0", "align": "left", "baseline": "middle"},
    "encoding": {"x": {"field": "i", "type": "quantitative", "title": null}, "y": {"field": "p", "type": "quantitative", "title": null}, "text": {"field": "t"}}},
   {"data": {"name": "greenNote"}, "mark": {"type": "point", "shape": "triangle-up", "size": 6, "filled": true, "color": "#2b9a2b"},
    "encoding": {"x": {"field": "i", "type": "quantitative", "title": null}, "y": {"field": "p", "type": "quantitative", "title": null}}},
   {"data": {"name": "brand"}, "mark": {"type": "text", "fontSize": 6, "color": "#3355bb", "align": "left", "baseline": "middle"},
    "encoding": {"x": {"field": "i", "type": "quantitative", "title": null}, "y": {"field": "p", "type": "quantitative", "title": null}, "text": {"field": "t"}}},
   {"data": {"name": "lastMain"}, "mark": {"type": "rect", "fill": "#f3ef9e", "stroke": "#8a8a6a", "strokeWidth": 0.6, "clip": false},
    "encoding": {"x": {"field": "a", "type": "quantitative", "title": null}, "x2": {"field": "b"}, "y": {"field": "lo", "type": "quantitative", "title": null}, "y2": {"field": "hi"}}},
   {"data": {"name": "lastMain"}, "mark": {"type": "text", "fontSize": 4.3, "color": "#222222", "align": "left", "baseline": "middle", "clip": false},
    "encoding": {"x": {"field": "i", "type": "quantitative", "title": null}, "y": {"field": "p", "type": "quantitative", "title": null}, "text": {"field": "t"}}}
  ]
 },
 {
  "width": 578, "height": 39,
  "title": {"text": "Stochastic_ IBEX  %K: 12.6871  %D: 13.7381  UpperBand: 80.0000  LowerBand: 20.0000  P: 127.0623"},
  "layer": [
   {"data": {"name": "stochBands"}, "mark": {"type": "rule", "color": "#8c8ce0", "strokeWidth": 1},
    "encoding": {"y": {"field": "b", "type": "quantitative", "title": null, "scale": {"domain": [-7, 123], "nice": false, "zero": false},
      "axis": {"orient": "right", "values": [0, 50, 100], "tickCount": 40, "format": ".1f", "labelFontSize": 4.3, "labelColor": "#223377", "labelOverlap": false, "ticks": false, "domain": false, "grid": true, "gridColor": "#dddddd", "labelPadding": 3}}}},
   {"data": {"name": "stoch"}, "mark": {"type": "line", "color": "#888888", "strokeWidth": 0.8, "strokeDash": [1.5, 1], "interpolate": "monotone"},
    "encoding": {"x": {"field": "i", "type": "quantitative", "title": null, "scale": {"domain": [0, 289], "nice": false, "zero": false},
      "axis": {"values": [6.5,26.5,47.5,67.5,89,110,131,151,171.5,191,212.5,231.5,253.5,271.5], "tickCount": 40, "labels": false, "ticks": false, "domain": false, "grid": true, "gridColor": "#e0e0e0"}},
     "y": {"field": "d", "type": "quantitative", "title": null}}},
   {"data": {"name": "stoch"}, "mark": {"type": "line", "color": "#e03a3a", "strokeWidth": 0.9, "interpolate": "monotone"},
    "encoding": {"x": {"field": "i", "type": "quantitative", "title": null}, "y": {"field": "k", "type": "quantitative", "title": null}}},
   {"data": {"name": "lastStoch"}, "mark": {"type": "rect", "fill": "#f3ef9e", "stroke": "#8a8a6a", "strokeWidth": 0.6, "clip": false},
    "encoding": {"x": {"field": "a", "type": "quantitative", "title": null}, "x2": {"field": "b"}, "y": {"field": "lo", "type": "quantitative", "title": null}, "y2": {"field": "hi"}}},
   {"data": {"name": "lastStoch"}, "mark": {"type": "text", "fontSize": 4.3, "color": "#222222", "align": "left", "baseline": "middle", "clip": false},
    "encoding": {"x": {"field": "i", "type": "quantitative", "title": null}, "y": {"field": "p", "type": "quantitative", "title": null}, "text": {"field": "t"}}}
  ]
 },
 {
  "width": 578, "height": 31,
  "title": {"text": "MACD_ IBEX  MACD: -87.9189  MacdaDO: -93.2628  Band_MACD: 0.0000  P: 224.7497"},
  "layer": [
   {"mark": {"type": "rule", "color": "#8c8ce0", "strokeWidth": 1},
    "encoding": {"y": {"datum": 0, "type": "quantitative", "title": null, "scale": {"domain": [-450, 480], "nice": false, "zero": false},
      "axis": {"orient": "right", "values": [0], "tickCount": 40, "format": ".1f", "labelFontSize": 4.3, "labelColor": "#223377", "ticks": false, "domain": false, "grid": false, "labelPadding": 3, "labelBaseline": "bottom"}}}},
   {"data": {"name": "macd"}, "mark": {"type": "line", "color": "#888888", "strokeWidth": 0.8, "strokeDash": [1.5, 1], "interpolate": "monotone"},
    "encoding": {"x": {"field": "i", "type": "quantitative", "title": null, "scale": {"domain": [0, 289], "nice": false, "zero": false},
      "axis": {"values": [6.5,26.5,47.5,67.5,89,110,131,151,171.5,191,212.5,231.5,253.5,271.5], "tickCount": 40, "labels": false, "ticks": false, "domain": false, "grid": true, "gridColor": "#e0e0e0"}},
     "y": {"field": "s", "type": "quantitative", "title": null}}},
   {"data": {"name": "macd"}, "mark": {"type": "line", "color": "#e03a3a", "strokeWidth": 0.9, "interpolate": "monotone"},
    "encoding": {"x": {"field": "i", "type": "quantitative", "title": null}, "y": {"field": "m", "type": "quantitative", "title": null}}},
   {"data": {"name": "lastMacd"}, "mark": {"type": "rect", "fill": "#f3ef9e", "stroke": "#8a8a6a", "strokeWidth": 0.6, "clip": false},
    "encoding": {"x": {"field": "a", "type": "quantitative", "title": null}, "x2": {"field": "b"}, "y": {"field": "lo", "type": "quantitative", "title": null}, "y2": {"field": "hi"}}},
   {"data": {"name": "lastMacd"}, "mark": {"type": "text", "fontSize": 4.3, "color": "#222222", "align": "left", "baseline": "middle", "clip": false},
    "encoding": {"x": {"field": "i", "type": "quantitative", "title": null}, "y": {"field": "p", "type": "quantitative", "title": null}, "text": {"field": "t"}}}
  ]
 },
 {
  "width": 578, "height": 12,
  "title": {"text": "RSI_ IBEX  RSI: 35.3917  UpperBand: 70.0000  LowerBand: 30.0000  P: 953.2222"},
  "layer": [
   {"mark": {"type": "rule", "color": "#b23aa6", "strokeWidth": 1.4},
    "encoding": {"y": {"datum": 40, "type": "quantitative", "title": null, "scale": {"domain": [0, 100], "nice": false, "zero": false}, "axis": null}}},
   {"mark": {"type": "rule", "color": "#4d4dcc", "strokeWidth": 1},
    "encoding": {"y": {"datum": 28, "type": "quantitative", "title": null}}},
   {"data": {"name": "lastRsi"}, "mark": {"type": "rect", "fill": "#f3ef9e", "stroke": "#8a8a6a", "strokeWidth": 0.6, "clip": false},
    "encoding": {"x": {"field": "a", "type": "quantitative", "title": null, "scale": {"domain": [0, 289], "nice": false, "zero": false}, "axis": null}, "x2": {"field": "b"}, "y": {"field": "lo", "type": "quantitative", "title": null}, "y2": {"field": "hi"}}},
   {"data": {"name": "lastRsi"}, "mark": {"type": "text", "fontSize": 4.3, "color": "#222222", "align": "left", "baseline": "middle", "clip": false},
    "encoding": {"x": {"field": "i", "type": "quantitative", "title": null}, "y": {"field": "p", "type": "quantitative", "title": null}, "text": {"field": "t"}}}
  ]
 },
 {
  "width": 578, "height": 11,
  "title": {"text": "Vol_ IBEX  Vol: 281,705  P: 6,439,692"},
  "layer": [
   {"mark": {"type": "rule", "color": "#5555bb", "strokeWidth": 2, "strokeDash": [0.8, 1.2]},
    "encoding": {"y": {"datum": 3, "type": "quantitative", "title": null, "scale": {"domain": [0, 11], "nice": false, "zero": false}, "axis": null}}},
   {"data": {"name": "lastVol"}, "mark": {"type": "rect", "fill": "#f3ef9e", "stroke": "#8a8a6a", "strokeWidth": 0.6, "clip": false},
    "encoding": {"x": {"field": "a", "type": "quantitative", "title": null, "scale": {"domain": [0, 289], "nice": false, "zero": false}, "axis": null}, "x2": {"field": "b"}, "y": {"field": "lo", "type": "quantitative", "title": null}, "y2": {"field": "hi"}}},
   {"data": {"name": "lastVol"}, "mark": {"type": "text", "fontSize": 4.3, "color": "#222222", "align": "left", "baseline": "middle", "clip": false},
    "encoding": {"x": {"field": "i", "type": "quantitative", "title": null}, "y": {"field": "p", "type": "quantitative", "title": null}, "text": {"field": "t"}}}
  ]
 },
 {
  "width": 578, "height": 7,
  "view": {"fill": "#fbf7cf", "stroke": "#9a9a9a"},
  "data": {"name": "months"},
  "mark": {"type": "text", "fontSize": 4.6, "color": "#333333", "align": "left", "baseline": "middle", "dx": 1.5, "dy": -1},
  "encoding": {
   "x": {"field": "m", "type": "quantitative", "title": null, "scale": {"domain": [0, 289], "nice": false, "zero": false}, "axis": null},
   "text": {"field": "t"}}
 }
]
}
